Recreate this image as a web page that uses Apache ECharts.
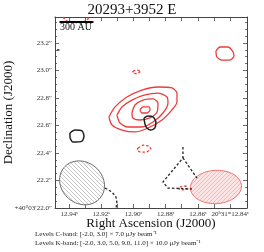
<!DOCTYPE html>
<html><head><meta charset="utf-8">
<script src="https://cdn.jsdelivr.net/npm/echarts@6/dist/echarts.min.js"></script>
<style>html,body{margin:0;padding:0;background:#fff}#c{width:264px;height:252px}</style>
</head><body><div id="c"></div>
<script>
// ---- data (RA seconds, Dec arcsec) ----
const xTicks = [12.84, 12.85, 12.86, 12.87, 12.88, 12.89, 12.90, 12.91, 12.92, 12.93, 12.94];
const xLabels = [12.84, 12.86, 12.88, 12.90, 12.92, 12.94];
const xRange = [12.8294, 12.9487];
const yRange = [22.0, 23.389];

// K-band contours (red)
const k3a_ra  = [12.9152,12.9114,12.9040,12.8947,12.8847,12.8760,12.8729,12.8729,12.8760,12.8822,12.8909,12.8990,12.9071,12.9133,12.9152];
const k3a_dec = [22.662,22.735,22.807,22.858,22.880,22.873,22.836,22.771,22.713,22.640,22.582,22.553,22.567,22.604,22.662];
const k5_ra   = [12.9102,12.9071,12.9009,12.8928,12.8847,12.8791,12.8785,12.8816,12.8878,12.8947,12.9034,12.9083,12.9102];
const k5_dec  = [22.676,22.735,22.785,22.822,22.836,22.807,22.764,22.691,22.625,22.589,22.589,22.618,22.676];
const k9_ra   = [12.9009,12.8990,12.8940,12.8878,12.8847,12.8853,12.8897,12.8959,12.9003,12.9009];
const k9_dec  = [22.691,22.749,22.785,22.793,22.764,22.698,22.655,22.640,22.655,22.691];
const k11_ra  = [12.8959,12.8940,12.8903,12.8897,12.8916,12.8947,12.8959];
const k11_dec = [22.713,22.735,22.735,22.713,22.691,22.691,22.713];
const k3b_ra  = [12.8487,12.8462,12.8412,12.8381,12.8375,12.8400,12.8450,12.8481,12.8487];
const k3b_dec = [23.142,23.171,23.171,23.135,23.105,23.076,23.076,23.098,23.142];
const kn1_ra  = [12.9003,12.8978,12.8953,12.8953,12.8978,12.9003,12.9003];
const kn1_dec = [22.996,23.004,22.996,22.982,22.975,22.982,22.996];
const kn2_ra  = [12.8971,12.8940,12.8903,12.8891,12.8916,12.8959,12.8978,12.8971];
const kn2_dec = [22.436,22.458,22.451,22.429,22.407,22.407,22.422,22.436];
const kn3_ra  = [12.8711,12.8673,12.8661,12.8692,12.8717,12.8711];
const kn3_dec = [22.153,22.160,22.138,22.131,22.138,22.153];
const kn4_ra  = [12.9437,12.9419,12.9381,12.9344,12.9307,12.9282,12.9276];
const kn4_dec = [23.389,23.360,23.353,23.345,23.353,23.375,23.389];

// C-band contours (black)
const c3a_ra  = [12.9394,12.9363,12.9319,12.9307,12.9319,12.9375,12.9394,12.9394];
const c3a_dec = [22.545,22.567,22.560,22.524,22.487,22.480,22.516,22.545];
const c3b_ra  = [12.8934,12.8909,12.8878,12.8860,12.8866,12.8891,12.8916,12.8928,12.8934];
const c3b_dec = [22.655,22.669,22.662,22.625,22.582,22.567,22.582,22.611,22.655];
const cn1_ra  = [12.8692,12.8692,12.8816,12.8785,12.8636];
const cn1_dec = [22.444,22.364,22.189,22.145,22.138];
const cn2_ra  = [12.8692,12.8605];
const cn2_dec = [22.364,22.218];
const cn3_ra  = [12.9176,12.9133,12.9108,12.9102,12.9108];
const cn3_dec = [22.145,22.116,22.080,22.036,22.000];
const cn4_ra  = [12.9475,12.9456];
const cn4_dec = [23.149,23.149];

// beams: [ra, dec, major(arcsec), minor(arcsec), angle(deg, screen clockwise)]
const beamC = [12.9319, 22.183, 0.172, 0.150, 40];
const beamK = [12.8487, 22.153, 0.186, 0.121, -3];

// scale bar (300 AU)
const bar_ra = [12.9459, 12.9248];
const bar_dec = [23.353, 23.353];

const zip = (a, b) => a.map((v, i) => [v, b[i]]);

function hatch(bg, fg, dir) {
  const cv = document.createElement('canvas');
  cv.width = 4; cv.height = 4;
  const g = cv.getContext('2d');
  g.fillStyle = bg; g.fillRect(0, 0, 4, 4);
  g.strokeStyle = fg; g.lineWidth = 0.7;
  g.beginPath();
  if (dir > 0) { g.moveTo(0, 4); g.lineTo(4, 0); g.moveTo(-1, 1); g.lineTo(1, -1); g.moveTo(3, 5); g.lineTo(5, 3); }
  else { g.moveTo(0, 0); g.lineTo(4, 4); g.moveTo(-1, 3); g.lineTo(1, 5); g.moveTo(3, -1); g.lineTo(5, 1); }
  g.stroke();
  return { image: cv, repeat: 'repeat' };
}

const RED = '#ee3b3b', BLK = '#222';
function contour(ra, dec, color, dashed, w) {
  return {
    type: 'line', data: zip(ra, dec), showSymbol: false, symbol: 'none', silent: true,
    smooth: dashed ? 0 : 0.25, clip: true,
    lineStyle: { color: color, width: w || 1.3, type: dashed ? [2.5, 2] : 'solid' },
    z: 5
  };
}
function beamSeries(b, stroke, fill) {
  return {
    type: 'custom', data: [b], silent: true, clip: true, z: 3,
    renderItem: function (params, api) {
      const c = api.coord([api.value(0), api.value(1)]);
      const a = api.size([0, api.value(2)])[1];
      const bb = api.size([0, api.value(3)])[1];
      const th = api.value(4) * Math.PI / 180;
      const pts = [];
      for (let i = 0; i < 72; i++) {
        const t = i / 72 * 2 * Math.PI;
        const x = a * Math.cos(t), y = bb * Math.sin(t);
        pts.push([c[0] + x * Math.cos(th) - y * Math.sin(th), c[1] + x * Math.sin(th) + y * Math.cos(th)]);
      }
      return { type: 'polygon', shape: { points: pts }, style: { fill: fill, stroke: stroke, lineWidth: 1 } };
    }
  };
}

const FONT = 'Liberation Serif';
const chart = echarts.init(document.getElementById('c'), null, { renderer: 'canvas' });
const tickStyle = { show: true, inside: true, length: 4, lineStyle: { color: '#444', width: 0.8 } };
chart.setOption({
  animation: false,
  title: { text: '20293+3952 E', left: 'center', top: -2,
    textStyle: { fontFamily: FONT, fontSize: 15, fontWeight: 'normal', color: '#111' } },
  grid: { left: 55, right: 17, top: 17, bottom: 44, containLabel: false, outerBoundsMode: 'none' },
  xAxis: [{
    type: 'value', inverse: true, min: xRange[0], max: xRange[1], position: 'bottom',
    name: 'Right Ascension (J2000)', nameLocation: 'middle', nameGap: 9, nameMoveOverlap: false,
    nameTextStyle: { fontFamily: FONT, fontSize: 13, color: '#111', verticalAlign: 'top' },
    axisLine: { show: true, onZero: false, lineStyle: { color: '#444', width: 1 } },
    axisTick: Object.assign({}, tickStyle, { customValues: xTicks }),
    axisLabel: { customValues: xLabels, margin: 3, fontFamily: FONT, fontSize: 7, color: '#333',
      formatter: v => Math.abs(v - 12.84) < 1e-6 ? '20ʰ31ᵐ12.84ˢ' : v.toFixed(2) + 'ˢ' },
    splitLine: { show: false }
  }, {
    type: 'value', inverse: true, min: xRange[0], max: xRange[1], position: 'top',
    axisLine: { show: true, onZero: false, lineStyle: { color: '#444', width: 1 } },
    axisTick: Object.assign({}, tickStyle, { customValues: xTicks }),
    axisLabel: { show: false }, splitLine: { show: false }
  }],
  yAxis: [{
    type: 'value', min: yRange[0], max: yRange[1], interval: 0.2, position: 'left',
    name: 'Declination (J2000)', nameLocation: 'middle', nameGap: 40, nameRotate: 90, nameMoveOverlap: false,
    nameTextStyle: { fontFamily: FONT, fontSize: 13, color: '#111' },
    axisLine: { show: true, onZero: false, lineStyle: { color: '#444', width: 1 } },
    axisTick: tickStyle,
    minorTick: { show: true, splitNumber: 4, length: 2, lineStyle: { color: '#444', width: 0.8 } },
    axisLabel: { margin: 3, fontFamily: FONT, fontSize: 7, color: '#333', showMaxLabel: false,
      formatter: v => Math.abs(v - 22.0) < 1e-6 ? '+40°03′22.0″' : v.toFixed(1) + '″' },
    splitLine: { show: false }
  }, {
    type: 'value', min: yRange[0], max: yRange[1], interval: 0.2, position: 'right',
    axisLine: { show: true, onZero: false, lineStyle: { color: '#444', width: 1 } },
    axisTick: tickStyle,
    minorTick: { show: true, splitNumber: 4, length: 2, lineStyle: { color: '#444', width: 0.8 } },
    axisLabel: { show: false }, splitLine: { show: false }
  }],
  graphic: [
    { type: 'text', left: 60, top: 22, style: { text: '300 AU', fontFamily: FONT, fontSize: 10, fill: '#111' }, z: 20 },
    { type: 'text', left: 35, top: 231, style: { text: 'Levels C-band: [-2.0, 3.0] × 7.0 μJy beam⁻¹', fontFamily: FONT, fontSize: 7, fill: '#222' } },
    { type: 'text', left: 35, top: 240, style: { text: 'Levels K-band: [-2.0, 3.0, 5.0, 9.0, 11.0] × 10.0 μJy beam⁻¹', fontFamily: FONT, fontSize: 7, fill: '#222' } }
  ],
  series: [
    beamSeries(beamC, '#666', hatch('#ffffff', '#b0b0b0', -1)),
    beamSeries(beamK, '#f07070', hatch('#fde4e4', '#f5a8a8', 1)),
    contour(k3a_ra, k3a_dec, RED, false),
    contour(k5_ra, k5_dec, RED, false),
    contour(k9_ra, k9_dec, RED, false),
    contour(k11_ra, k11_dec, RED, false),
    contour(k3b_ra, k3b_dec, RED, false),
    contour(kn1_ra, kn1_dec, RED, true),
    contour(kn2_ra, kn2_dec, RED, true),
    contour(kn3_ra, kn3_dec, RED, true),
    contour(kn4_ra, kn4_dec, RED, true),
    contour(c3a_ra, c3a_dec, BLK, false, 1.5),
    contour(c3b_ra, c3b_dec, BLK, false, 1.5),
    contour(cn1_ra, cn1_dec, BLK, true),
    contour(cn2_ra, cn2_dec, BLK, true),
    contour(cn3_ra, cn3_dec, BLK, true),
    contour(cn4_ra, cn4_dec, BLK, true),
    { type: 'line', data: zip(bar_ra, bar_dec), showSymbol: false, symbol: 'none', silent: true,
      lineStyle: { color: '#000', width: 2 }, z: 10 }
  ]
});
</script></body></html>
